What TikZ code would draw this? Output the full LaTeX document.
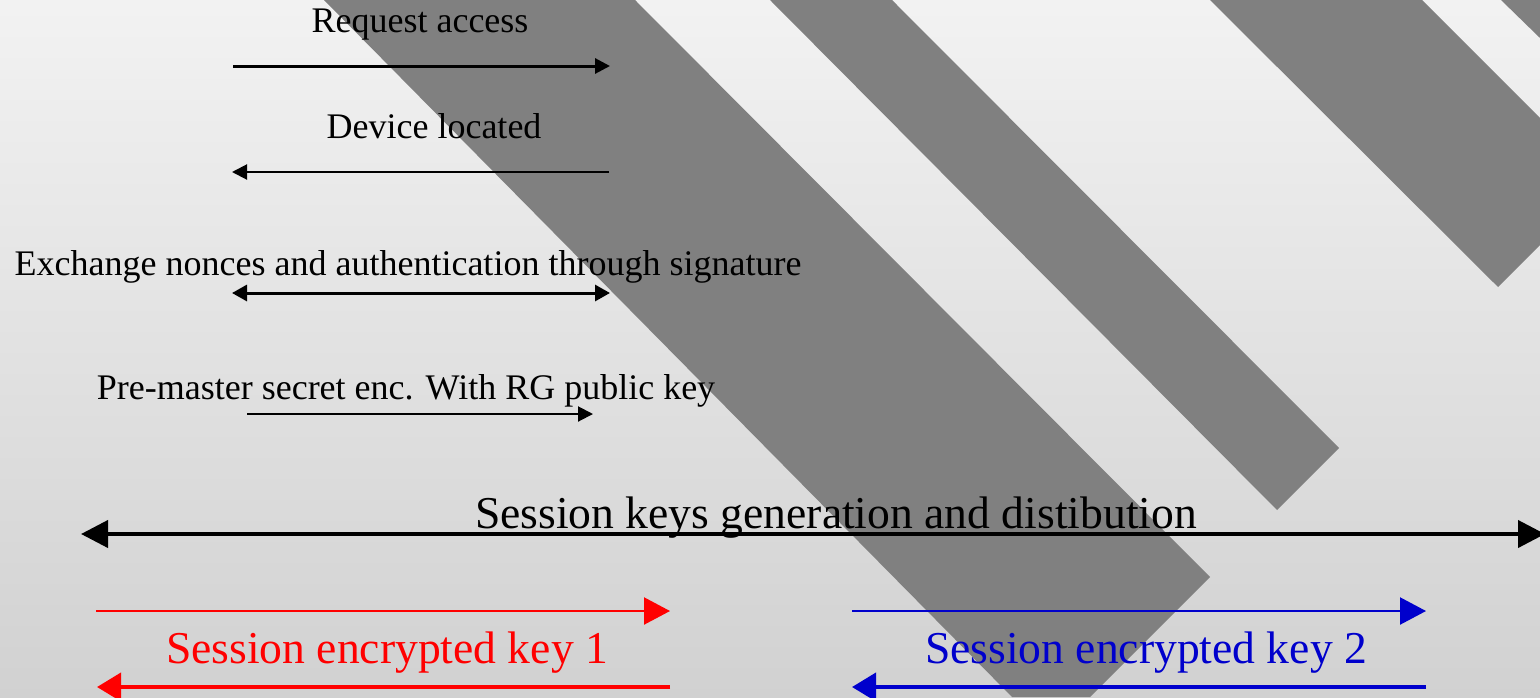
\documentclass[tikz,border=0pt]{standalone}
\usepackage{fontspec}
\setmainfont{Liberation Serif}
\usetikzlibrary{arrows.meta}
\definecolor{keyred}{RGB}{255,0,0}
\definecolor{keyblue}{RGB}{0,0,204}
\begin{document}
\begin{tikzpicture}[x=0.5pt,y=-0.5pt]
        \tikzstyle{stripe}=[fill=black!50]
        \tikzstyle{msg}=[anchor=base,inner sep=0pt,font=\fontsize{18}{20}\selectfont]
        \tikzstyle{bigmsg}=[anchor=base,inner sep=0pt,font=\fontsize{22.8}{26}\selectfont]
        \tikzstyle{boldflow}=[line width=1.5pt,-{Triangle[length=7.5pt,width=7.5pt]}]
        \tikzstyle{thinflow}=[line width=1pt,-{Triangle[length=7.5pt,width=7.5pt]}]
        \tikzstyle{bothflow}=[line width=1.5pt,{Triangle[length=7.5pt,width=8pt]}-{Triangle[length=7.5pt,width=8pt]}]
        \tikzstyle{bigflow}=[line width=2pt,{Triangle[length=13.5pt,width=13.5pt]}-{Triangle[length=13.5pt,width=13.5pt]}]
        \tikzstyle{keyout}=[line width=1.1pt,-{Triangle[length=13pt,width=13.5pt]}]
        \tikzstyle{keyback}=[line width=2pt,-{Triangle[length=12pt,width=14pt]}]
        \clip (0,0) rectangle (1540,697);
        \shade[top color=black!5,bottom color=black!18] (0,0) rectangle (1540,697);
       % diagonal bands
       \begin{scope}
         \path[stripe] (324,0) -- (635,0) -- (1210,577) -- (1090,697) -- (1012,697) -- cycle;
         \path[stripe] (770,0) -- (892,0) -- (1339,448) -- (1277,510) -- cycle;
         \path[stripe] (1210,0) -- (1422,0) -- (1540,118) -- (1540,245) -- (1498,287) -- cycle;
         \path[stripe] (1501,0) -- (1540,0) -- (1540,38) -- cycle;
       \end{scope}
       % handshake
       \begin{scope}
         \node [msg] (req) at (420,32) {Request access};
         \node [msg] (loc) at (434,138) {Device located};
         \node [msg] (nonce) at (408,275) {Exchange nonces and authentication through signature};
         \node [msg] (pms) at (406,399) {Pre-master secret enc. With RG public key};
         \coordinate (req1) at (233,66);
         \coordinate (req2) at (610,66);
         \coordinate (loc1) at (609,172);
         \coordinate (loc2) at (232,172);
         \coordinate (nonce1) at (232,293);
         \coordinate (nonce2) at (610,293);
         \coordinate (pms1) at (247,414);
         \coordinate (pms2) at (593,414);
         \draw[boldflow] (req1) -- (req2);
         \draw[thinflow] (loc1) -- (loc2);
         \draw[bothflow] (nonce1) -- (nonce2);
         \draw[thinflow] (pms1) -- (pms2);
       \end{scope}
       % session keys
       \begin{scope}
         \node [bigmsg] (sess) at (836,528) {Session keys generation and distibution};
         \coordinate (sess1) at (81,534);
         \coordinate (sess2) at (1545,534);
         \draw[bigflow] (sess1) -- (sess2);
         \node [bigmsg,text=keyred] (key1) at (387,663) {Session encrypted key 1};
         \node [bigmsg,text=keyblue] (key2) at (1146,663) {Session encrypted key 2};
         \coordinate (ka1) at (96,611);
         \coordinate (ka2) at (670,611);
         \coordinate (kb1) at (670,687);
         \coordinate (kb2) at (97,687);
         \coordinate (kc1) at (852,611);
         \coordinate (kc2) at (1426,611);
         \coordinate (kd1) at (1426,687);
         \coordinate (kd2) at (852,687);
         \draw[keyout,keyred] (ka1) -- (ka2);
         \draw[keyback,keyred] (kb1) -- (kb2);
         \draw[keyout,keyblue] (kc1) -- (kc2);
         \draw[keyback,keyblue] (kd1) -- (kd2);
       \end{scope}
\end{tikzpicture}
\end{document}
